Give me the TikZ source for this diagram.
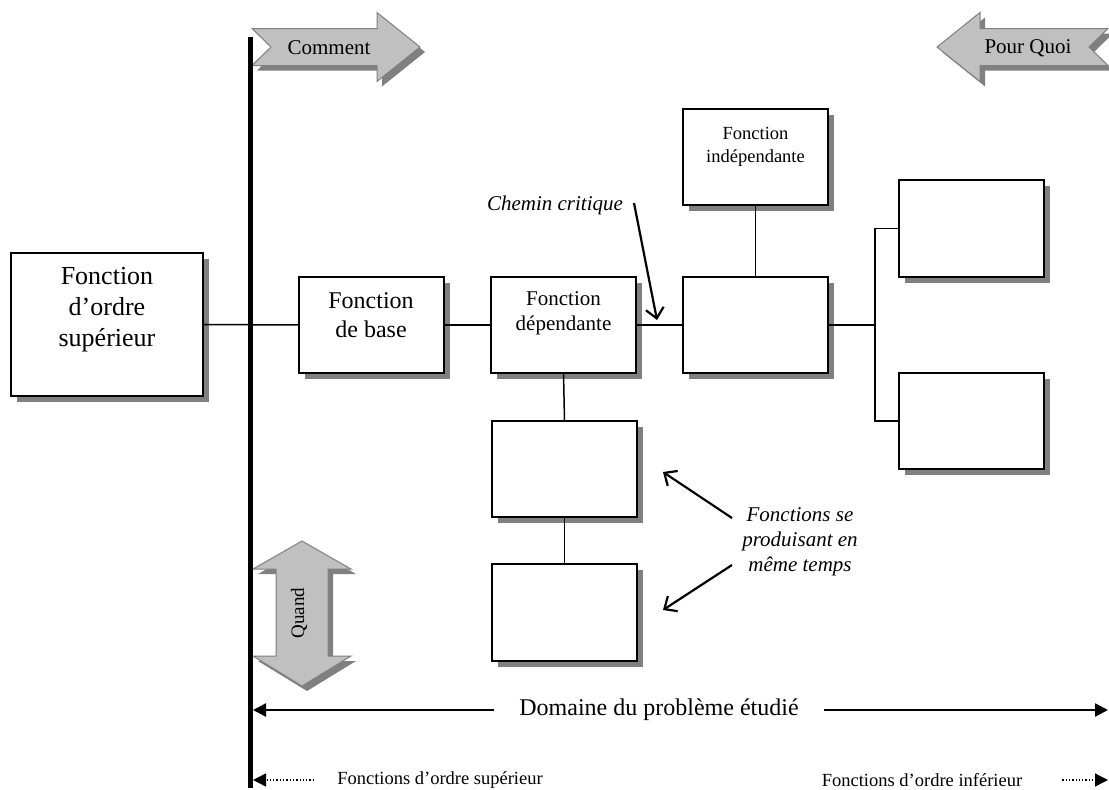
\documentclass[tikz,border=0pt]{standalone}
\usepackage{fontspec}
\setmainfont{Liberation Serif}
\usetikzlibrary{arrows.meta,shadows,calc}
\definecolor{shapefill}{HTML}{C0C0C0}
\definecolor{shadowgray}{HTML}{808080}
\tikzset{
  fbox/.style={draw=black, line width=1.8pt, fill=white, inner sep=0pt, outer sep=0pt,
    anchor=north west, minimum width=145pt, minimum height=96pt,
    drop shadow={shadow xshift=6pt, shadow yshift=-6pt, opacity=1, fill=shadowgray}},
  conn/.style={line width=1.5pt},
  boxtext/.style={align=center, inner sep=0pt},
  pointer/.style={line width=2.2pt, -{Straight Barb[length=10pt,width=18pt,line width=2.2pt]}},
  domarrow/.style={line width=2.4pt, -{Triangle[length=13pt,width=13pt]}},
  dotarrow/.style={line width=1.3pt, dotted, -{Triangle[length=13pt,width=13pt,sep=0pt]}},
  greyshape/.style={fill=shapefill, draw=shadowgray, line width=1pt},
  greyshadow/.style={fill=shadowgray},
}
\begin{document}
\begin{tikzpicture}[x=1pt,y=-1pt]
\useasboundingbox (0,0) rectangle (1109,790);

% grey arrows
\def\commentpath{(252,28.5) -- (377,28.5) -- (377,12.5) -- (420,47) -- (377,81.5) -- (377,65.5) -- (252,65.5) -- (271,47) -- cycle}
\def\pourquoipath{(937,47) -- (980,12.5) -- (980,28.5) -- (1108,28.5) -- (1089,47) -- (1108,65.5) -- (980,65.5) -- (980,81.5) -- cycle}
\def\quandpath{(302,541) -- (351,569) -- (328,569) -- (328,656) -- (351,656) -- (302,686) -- (253,656) -- (276,656) -- (276,569) -- (253,569) -- cycle}
\begin{scope}[shift={(5,5)}]
  \path[greyshadow] \commentpath;
  \path[greyshadow] \pourquoipath;
  \path[greyshadow] \quandpath;
\end{scope}
\path[greyshape] \commentpath;
\path[greyshape] \pourquoipath;
\path[greyshape] \quandpath;
\node[boxtext, font=\fontsize{21}{25}\selectfont] (comment) at (329,48) {Comment};
\node[boxtext, font=\fontsize{21}{25}\selectfont] (pourquoi) at (1028,48) {Pour Quoi};
\node[boxtext, font=\fontsize{19}{23}\selectfont, rotate=90] (quand) at (299,613) {Quand};

% vertical bar
\coordinate (barTop) at (250,37);
\coordinate (barBot) at (250,788);
\draw[line width=5pt] (barTop) -- (barBot);

% boxes
\node[fbox, minimum width=192pt, minimum height=143pt] (A) at (11,253) {};
\node[fbox] (B) at (299,277) {};
\node[fbox] (C) at (491,277) {};
\node[fbox] (M) at (683,277) {};
\node[fbox] (I) at (683,109) {};
\node[fbox, minimum height=97pt] (R1) at (899,180) {};
\node[fbox] (R2) at (899,373) {};
\node[fbox] (L1) at (492,421) {};
\node[fbox, minimum height=97pt] (L2) at (492,564) {};

% box texts
\node[boxtext, font=\fontsize{26}{31}\selectfont] (Atext) at (107,310) {Fonction\\d’ordre\\supérieur};
\node[boxtext, font=\fontsize{24}{29}\selectfont] (Btext) at (371,315) {Fonction\\de base};
\node[boxtext, font=\fontsize{21}{25}\selectfont] (Ctext) at (563.5,313) {Fonction\\dépendante};
\node[boxtext, font=\fontsize{18.5}{23}\selectfont] (Itext) at (755.5,147) {Fonction\\indépendante};

% connectors
\coordinate (br) at (875,325);
\draw[conn] (A.east) -- (B.west);
\draw[conn] (B.east) -- (C.west);
\draw[conn] (C.east) -- (M.west);
\draw[conn] (M.east) -- (br);
\draw[conn] (R1.west) -| (br) |- (R2.west);
\draw[conn] (I.south) -- (M.north);
\draw[conn] (C.south) -- (L1.north);
\draw[conn] (L1.south) -- (L2.north);

% chemin critique
\node[boxtext, font=\itshape\fontsize{21}{25}\selectfont] (cc) at (555,205) {Chemin critique};
\coordinate (ccs) at (634,203);
\coordinate (cct) at (657,320);
\draw[pointer] (ccs) -- (cct);

% fonctions se produisant en meme temps
\node[boxtext, font=\itshape\fontsize{21}{25}\selectfont] (fs) at (800,542) {Fonctions se\\produisant en\\même temps};
\coordinate (fs1) at (732,518);
\coordinate (fs1t) at (663,472);
\coordinate (fs2) at (732,565);
\coordinate (fs2t) at (663,610);
\draw[pointer] (fs1) -- (fs1t);
\draw[pointer] (fs2) -- (fs2t);

% domaine
\node[boxtext, inner xsep=25pt, font=\fontsize{24}{28}\selectfont] (dom) at (659,710) {Domaine du problème étudié};
\coordinate (domL) at (253,710);
\coordinate (domR) at (1108,710);
\draw[domarrow] (dom.west) -- (domL);
\draw[domarrow] (dom.east) -- (domR);

% bottom
\node[boxtext, inner xsep=23pt, font=\fontsize{18.5}{22}\selectfont] (sup) at (440,780) {Fonctions d’ordre supérieur};
\node[boxtext, inner xsep=40pt, font=\fontsize{18.5}{22}\selectfont] (inf) at (922,780) {Fonctions d’ordre inférieur};
\coordinate (supL) at (253,780);
\coordinate (infR) at (1108,780);
\draw[dotarrow] (sup.west) -- (supL);
\draw[dotarrow] (inf.east) -- (infR);
\end{tikzpicture}
\end{document}
